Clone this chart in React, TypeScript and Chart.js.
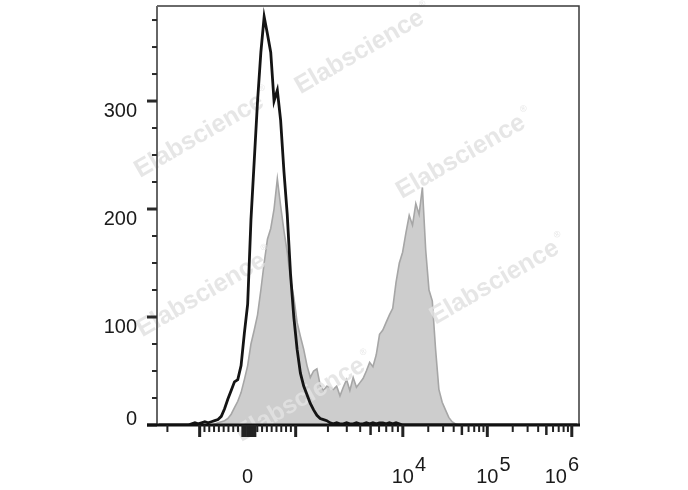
import React, { useEffect, useRef } from "react";
import { Chart, registerables } from "chart.js";

Chart.register(...registerables);

// ---- Data -----------------------------------------------------------------
// Histogram channels (0..1024 display channels, bins of 8 channels)
const CHANNEL_MAX = 1024;
const BIN_WIDTH = 8;

// Open (black outline) histogram – unstained / isotype
const blackCounts = [
  0, 0, 0, 0, 0, 0, 0, 0, 0, 0,
  1, 2, 1, 2, 3, 2, 3, 4, 5, 8,
  15, 24, 32, 40, 42, 55, 85, 112, 190, 245,
  300, 345, 378, 362, 345, 300, 310, 282, 235, 195,
  140, 100, 70, 48, 36, 28, 20, 14, 9, 6,
  5, 4, 2, 1, 2, 1, 1, 2, 1, 1,
  2, 1, 1, 2, 1, 2, 1, 2, 2, 1,
  2, 1, 2, 1, 0, 0, 0, 0, 0, 0,
  0, 0, 0, 0, 0, 0, 0, 0, 0, 0,
  0, 0, 0, 0, 0, 0, 0, 0, 0, 0,
  0, 0, 0, 0, 0, 0, 0, 0, 0, 0,
  0, 0, 0, 0, 0, 0, 0, 0, 0, 0,
  0, 0, 0, 0, 0, 0, 0, 0,
];

// Filled grey histogram – stained sample
const greyCounts = [
  0, 0, 0, 0, 0, 0, 0, 0, 0, 0,
  0, 0, 0, 0, 0, 0, 0, 1, 2, 3,
  4, 6, 10, 16, 22, 30, 42, 55, 75, 88,
  102, 125, 150, 172, 182, 200, 228, 203, 180, 160,
  135, 118, 95, 82, 70, 55, 44, 50, 52, 37,
  32, 36, 35, 33, 36, 27, 35, 42, 32, 44,
  35, 39, 43, 50, 58, 54, 65, 84, 88, 95,
  102, 108, 132, 150, 160, 178, 194, 185, 205, 195,
  220, 162, 125, 115, 70, 33, 21, 14, 7, 3,
  1, 0, 0, 0, 0, 0, 0, 0, 0, 0,
  0, 0, 0, 0, 0, 0, 0, 0, 0, 0,
  0, 0, 0, 0, 0, 0, 0, 0, 0, 0,
  0, 0, 0, 0, 0, 0, 0, 0,
];

// Y axis
const Y_MAX = 388;
const yTickValues = [0, 100, 200, 300];
const yTickLabels = ["0", "100", "200", "300"];
const Y_MINOR_STEP = 25;

// X axis (biexponential display)
const xTickValues = [0, 1e4, 1e5, 1e6];
const xTickBases = ["0", "10", "10", "10"];
const xTickExponents = ["", "4", "5", "6"];
const xMajorTicks = [-1000, 0, 1000, 1e4, 1e5, 1e6];
const xZeroTicks = [-100, -50, 50, 100, 150];
const xMediumTicks = [5000, 5e4, 5e5];
const xMinorTicks = [
  -2000, -900, -800, -700, -600, -500, -400, -300, -200,
  200, 300, 400, 500, 600, 700, 800, 900,
  2000, 3000, 4000, 6000, 7000, 8000, 9000,
  2e4, 3e4, 4e4, 6e4, 7e4, 8e4, 9e4,
  2e5, 3e5, 4e5, 6e5, 7e5, 8e5, 9e5,
];

const WATERMARK = "Elabscience";

// biexponential-like transform: value -> display channel
const ZERO_CH = 220;
const LIN_CH = 116.5; // channels for 1000 in linear part
const DEC1_CH = 260; // channels per decade 10^3..10^4
const DEC2_CH = 205; // channels per decade above 10^4
function toChannel(v: number): number {
  if (Math.abs(v) <= 1000) return ZERO_CH + (LIN_CH * v) / 1000;
  if (v < -1000) return ZERO_CH - LIN_CH - DEC1_CH * Math.log10(-v / 1000);
  if (v <= 1e4) return ZERO_CH + LIN_CH + DEC1_CH * Math.log10(v / 1000);
  return ZERO_CH + LIN_CH + DEC1_CH + DEC2_CH * Math.log10(v / 1e4);
}

const FONT = '"Liberation Sans", Arial, Helvetica, sans-serif';

function drawWatermarks(chart: any) {
  const ctx = chart.ctx as CanvasRenderingContext2D;
  const { left, right, top, bottom } = chart.chartArea;
  const w = right - left;
  const h = bottom - top;
  // relative positions (fractions of plot area) of the watermark centres
  const spots = [
    [0.48, 0.11],
    [0.1, 0.31],
    [0.72, 0.36],
    [0.8, 0.66],
    [0.105, 0.69],
    [0.34, 0.94],
  ];
  ctx.save();
  ctx.fillStyle = "rgba(226,226,226,0.85)";
  ctx.textAlign = "center";
  ctx.textBaseline = "middle";
  for (const [fx, fy] of spots) {
    ctx.save();
    ctx.translate(left + fx * w, top + fy * h);
    ctx.rotate((-30 * Math.PI) / 180);
    ctx.font = `bold 25px ${FONT}`;
    ctx.fillText(WATERMARK, 0, 0);
    const tw = ctx.measureText(WATERMARK).width;
    ctx.font = `9px ${FONT}`;
    ctx.fillText("®", tw / 2 + 6, -10);
    ctx.restore();
  }
  ctx.restore();
}

const axesPlugin = {
  id: "flowAxes",
  afterDatasetDraw(chart: any, args: any) {
    if (args.index === 1) drawWatermarks(chart);
  },
  afterDraw(chart: any) {
    const ctx = chart.ctx as CanvasRenderingContext2D;
    const { left, right, top, bottom } = chart.chartArea;
    const xs = chart.scales.x;
    const ys = chart.scales.y;
    ctx.save();

    // frame
    ctx.lineCap = "butt";
    ctx.strokeStyle = "#3a3a3a";
    ctx.lineWidth = 1.5;
    ctx.beginPath();
    ctx.moveTo(left, top);
    ctx.lineTo(right, top);
    ctx.lineTo(right, bottom);
    ctx.stroke();

    ctx.strokeStyle = "#666";
    ctx.lineWidth = 2;
    ctx.beginPath();
    ctx.moveTo(left, top);
    ctx.lineTo(left, bottom);
    ctx.stroke();

    // y ticks
    ctx.strokeStyle = "#2a2a2a";
    for (let v = 0; v <= Y_MAX; v += Y_MINOR_STEP) {
      const y = ys.getPixelForValue(v);
      const major = yTickValues.includes(v);
      ctx.lineWidth = major ? 3 : 2;
      ctx.beginPath();
      ctx.moveTo(left - (major ? 10 : 5), y);
      ctx.lineTo(left, y);
      ctx.stroke();
    }

    // bottom axis
    ctx.strokeStyle = "#111";
    ctx.lineWidth = 3;
    ctx.beginPath();
    ctx.moveTo(left - 10, bottom);
    ctx.lineTo(right + 1, bottom);
    ctx.stroke();

    // x ticks
    const drawX = (vals: number[], len: number, width: number) => {
      ctx.lineWidth = width;
      for (const v of vals) {
        const x = xs.getPixelForValue(toChannel(v));
        if (x < left - 1 || x > right + 1) continue;
        ctx.beginPath();
        ctx.moveTo(x, bottom);
        ctx.lineTo(x, bottom + len);
        ctx.stroke();
      }
    };
    ctx.strokeStyle = "#222";
    drawX(xMinorTicks, 7, 2);
    drawX(xMediumTicks, 10, 2.5);
    drawX(xZeroTicks, 12, 3);
    drawX(xMajorTicks, 12, 3);

    // y labels
    ctx.fillStyle = "#1a1a1a";
    ctx.font = `20px ${FONT}`;
    ctx.textAlign = "right";
    ctx.textBaseline = "alphabetic";
    yTickValues.forEach((v, i) => {
      const y = ys.getPixelForValue(v);
      ctx.fillText(yTickLabels[i], left - 20, Math.min(y + 16, bottom));
    });

    // x labels with superscripts
    ctx.textAlign = "left";
    const baseY = bottom + 58;
    xTickValues.forEach((v, i) => {
      const x = xs.getPixelForValue(toChannel(v));
      const base = xTickBases[i];
      const exp = xTickExponents[i];
      const bw = ctx.measureText(base).width;
      const ew = exp ? ctx.measureText(exp).width : 0;
      let bx = x - bw / 2;
      const ex = bx + bw + 1;
      let shift = 0;
      if (exp && ex + ew > right) shift = ex + ew - right;
      bx -= shift;
      ctx.fillText(base, bx, baseY);
      if (exp) ctx.fillText(exp, ex - shift, baseY - 12);
    });

    ctx.restore();
  },
};

export default function App() {
  const canvasRef = useRef<HTMLCanvasElement | null>(null);

  useEffect(() => {
    const canvas = canvasRef.current;
    if (!canvas) return;
    const blackData = blackCounts.map((c, i) => ({ x: i * BIN_WIDTH + BIN_WIDTH / 2, y: c }));
    const greyData = greyCounts.map((c, i) => ({ x: i * BIN_WIDTH + BIN_WIDTH / 2, y: c }));
    const chart = new Chart(canvas, {
      type: "line",
      data: {
        datasets: [
          {
            label: "Isotype",
            data: blackData,
            borderColor: "#141414",
            borderWidth: 2.8,
            pointRadius: 0,
            fill: false,
            tension: 0,
          },
          {
            label: "Stained",
            data: greyData,
            borderColor: "#a6a6a6",
            backgroundColor: "#cdcdcd",
            borderWidth: 1.6,
            pointRadius: 0,
            fill: "origin",
            tension: 0,
          },
        ],
      },
      options: {
        animation: false,
        responsive: false,
        devicePixelRatio: 1,
        layout: { padding: { left: 157, top: 6, right: 109, bottom: 65 } },
        plugins: { legend: { display: false }, tooltip: { enabled: false } },
        scales: {
          x: { type: "linear", min: 0, max: CHANNEL_MAX, display: false },
          y: { type: "linear", min: 0, max: Y_MAX, display: false },
        },
      },
      plugins: [axesPlugin],
    });
    return () => chart.destroy();
  }, []);

  return (
    <div style={{ position: "absolute", left: 0, top: 0, width: 688, height: 490, background: "#fff" }}>
      <canvas ref={canvasRef} width={688} height={490} style={{ display: "block" }} />
    </div>
  );
}
